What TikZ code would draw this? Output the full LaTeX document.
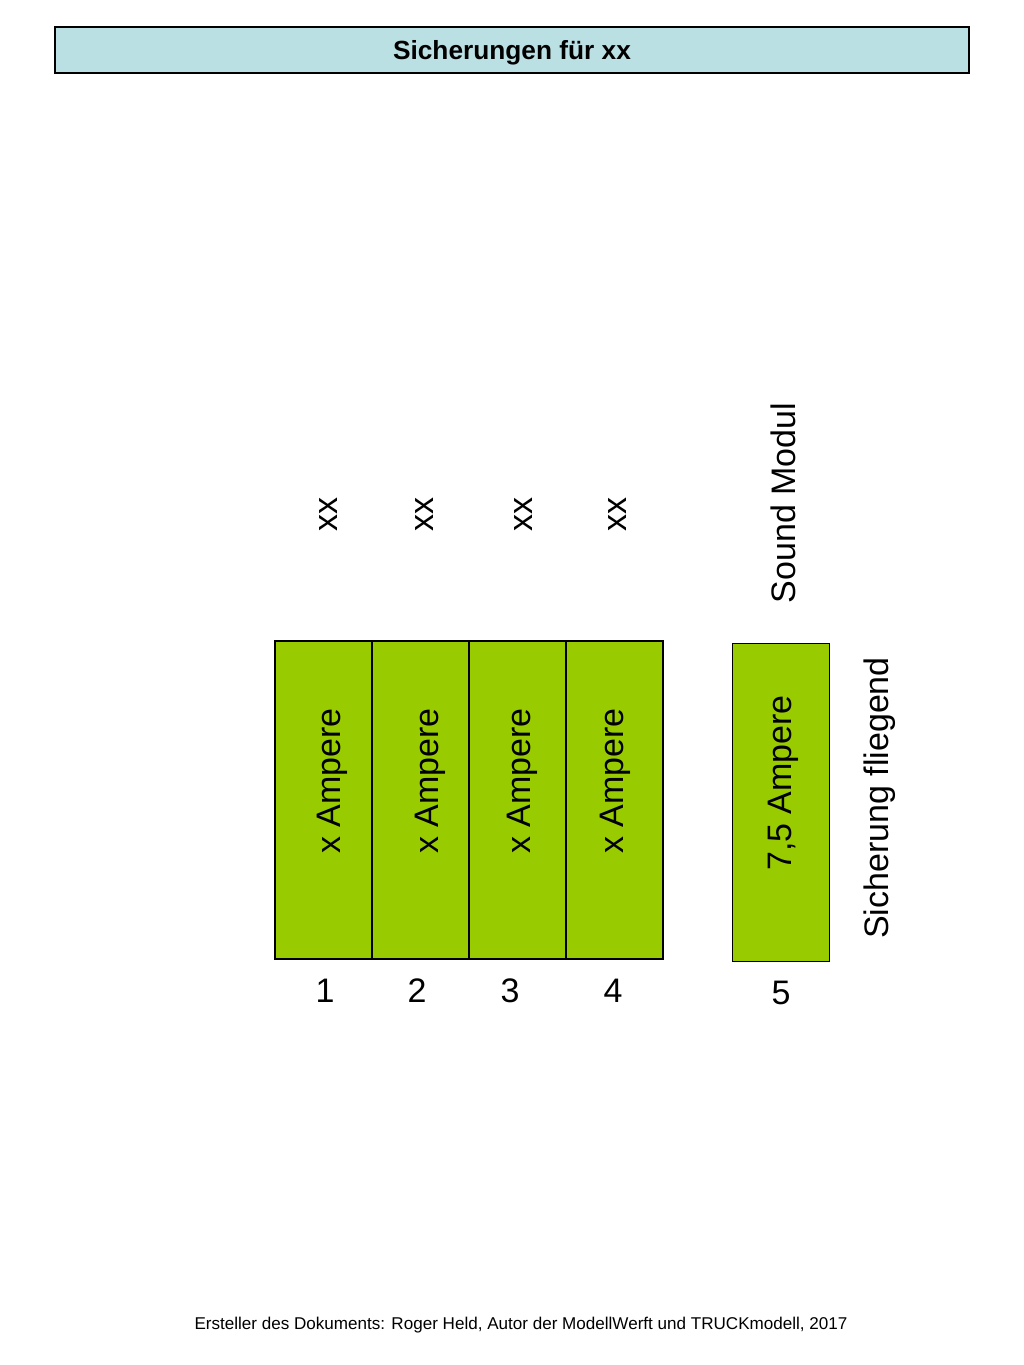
\documentclass[tikz,border=0pt]{standalone}
\usepackage{fontspec}
\setmainfont{Liberation Sans}
\usetikzlibrary{positioning}
\definecolor{fusegreen}{HTML}{99CC00}
\definecolor{titlecyan}{HTML}{BBE0E3}

\begin{document}
\begin{tikzpicture}[x=0.75pt, y=-0.75pt,
		fuse/.style={draw, fill=fusegreen, line width=0.8pt, outer sep=0pt, inner sep=0pt, minimum width=72.75pt, minimum height=238.5pt},
		big/.style={font=\fontsize{25.5}{30}\selectfont, inner sep=0pt},
		vert/.style={big, rotate=90}]
		\useasboundingbox (0,0) rectangle (1024,1365);

		\node[draw, fill=titlecyan, line width=0.8pt, minimum width=685.5pt, minimum height=34.5pt, text height=18.5pt, font=\fontsize{19.7}{24}\selectfont\bfseries] (title) at (512,50) {Sicherungen für xx};

		\node[fuse] (f1) at (323.5,800) {};
		\node[fuse, right=0pt of f1] (f2) {};
		\node[fuse, right=0pt of f2] (f3) {};
		\node[fuse, right=0pt of f3] (f4) {};
		\node[fuse] (f5) at (781,802.5) {};

		\node[vert] (a1) at (332,781) {x Ampere};
		\node[vert] (a2) at (430,781) {x Ampere};
		\node[vert] (a3) at (522,781) {x Ampere};
		\node[vert] (a4) at (615,781) {x Ampere};
		\node[vert] (a5) at (783,783) {7,5 Ampere};

		\node[vert] (x1) at (329,514) {xx};
		\node[vert] (x2) at (425,514) {xx};
		\node[vert] (x3) at (524,514) {xx};
		\node[vert] (x4) at (618,514) {xx};
		\node[vert] (snd) at (783,503) {Sound Modul};
		\node[vert] (fly) at (880,798) {Sicherung fliegend};

		\node[big] (n1) at (325,991) {1};
		\node[big] (n2) at (417,991) {2};
		\node[big] (n3) at (510,991) {3};
		\node[big] (n4) at (613,991) {4};
		\node[big] (n5) at (781,993) {5};

		\node[font=\fontsize{12.8}{15}\selectfont] (credit) at (521,1325) {Ersteller des Dokuments: Roger Held, Autor der ModellWerft und TRUCKmodell, 2017};
	\end{tikzpicture}
\end{document}
